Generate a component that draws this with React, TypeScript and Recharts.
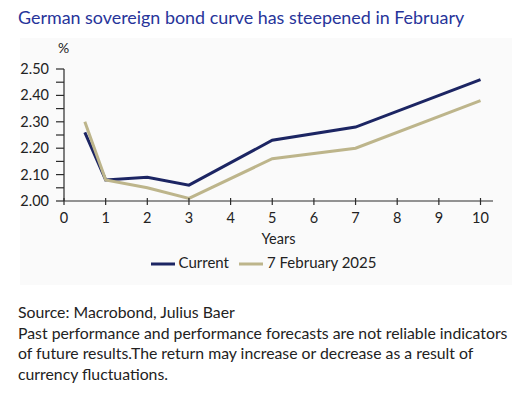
import React from 'react';
import { LineChart, Line, XAxis, YAxis, Legend } from 'recharts';

const maturities = [0.5, 1, 2, 3, 5, 7, 10];
const currentYields = [2.26, 2.08, 2.09, 2.06, 2.23, 2.28, 2.46];
const febYields = [2.30, 2.08, 2.05, 2.01, 2.16, 2.20, 2.38];
const xTicks = [0, 1, 2, 3, 4, 5, 6, 7, 8, 9, 10];
const yTicks = [2.0, 2.05, 2.1, 2.15, 2.2, 2.25, 2.3, 2.35, 2.4, 2.45, 2.5];
const yLabelTicks = [2.0, 2.1, 2.2, 2.3, 2.4, 2.5];

const NAVY = '#1c2563';
const KHAKI = '#bdb58b';
const AXIS = '#2b2b2b';
const TEXT = '#222';
const FONT = 'Lato, "Open Sans", sans-serif';

const data = maturities.map((m, i) => ({
  years: m,
  current: currentYields[i],
  feb: febYields[i],
}));

function XTick({ x, y, payload }: any) {
  return (
    <g>
      <line x1={x} x2={x} y1={y - 3} y2={y + 4} stroke={AXIS} strokeWidth={1.2} />
      <text x={x} y={y + 22} textAnchor="middle" fontSize={14.5} fill={TEXT} fontFamily={FONT}>
        {payload.value}
      </text>
    </g>
  );
}

function YTick({ x, y, payload }: any) {
  const showLabel = yLabelTicks.some(v => Math.abs(v - payload.value) < 1e-6);
  return (
    <g>
      <line x1={x - 8} x2={x} y1={y} y2={y} stroke={AXIS} strokeWidth={1.2} />
      {showLabel && (
        <text x={x - 15} y={y + 5} textAnchor="end" fontSize={14.5} fill={TEXT} fontFamily={FONT}>
          {payload.value.toFixed(2)}
        </text>
      )}
    </g>
  );
}

export default function App() {
  return (
    <div style={{ position: 'absolute', left: 0, top: 0, width: 520, height: 396, background: '#fff', fontFamily: FONT }}>
      <div style={{ position: 'absolute', left: 18, top: 6, fontSize: 17.9, color: '#27349a', whiteSpace: 'nowrap' }}>
        German sovereign bond curve has steepened in February
      </div>
      <div style={{ position: 'absolute', left: 20, top: 38, width: 492, height: 247, background: '#fafafa' }} />
      <div style={{ position: 'absolute', left: 58, top: 39, fontSize: 14, color: TEXT }}>%</div>
      <div style={{ position: 'absolute', left: 20, top: 38 }}>
        <LineChart width={492} height={245} data={data} margin={{ top: 31, right: 19, bottom: 7, left: 0 }}>
          <XAxis
            dataKey="years"
            type="number"
            domain={[0, 10.3]}
            ticks={xTicks}
            interval={0}
            tickSize={0}
            tickMargin={0}
            tickLine={false}
            tick={<XTick />}
            stroke={AXIS}
            strokeWidth={1.2}
            height={49}
            allowDataOverflow
            label={{ value: 'Years', position: 'insideBottom', offset: 6, fontSize: 14.5, fill: TEXT, fontFamily: FONT }}
          />
          <YAxis
            type="number"
            domain={[2, 2.5]}
            ticks={yTicks}
            interval={0}
            width={44}
            tickSize={0}
            tickMargin={0}
            tickLine={false}
            tick={<YTick />}
            stroke={AXIS}
            strokeWidth={1.2}
            allowDataOverflow
          />
          <Legend
            verticalAlign="bottom"
            iconType="plainline"
            iconSize={24}
            itemSorter="dataKey"
            wrapperStyle={{ paddingTop: 2, paddingLeft: 12 }}
            formatter={(value: string) => <span style={{ color: TEXT, fontSize: 15, fontFamily: FONT }}>{value}</span>}
          />
          <Line type="linear" dataKey="current" name="Current" stroke={NAVY} strokeWidth={3} dot={false} isAnimationActive={false} />
          <Line type="linear" dataKey="feb" name="7 February 2025" stroke={KHAKI} strokeWidth={3} dot={false} isAnimationActive={false} />
        </LineChart>
      </div>
      <div style={{ position: 'absolute', left: 18, top: 302, width: 492, fontSize: 15.8, lineHeight: '20.7px', color: TEXT }}>
        Source: Macrobond, Julius Baer
        <br />
        Past performance and performance forecasts are not reliable indicators of future results.The return may increase or decrease as a result of currency fluctuations.
      </div>
    </div>
  );
}
